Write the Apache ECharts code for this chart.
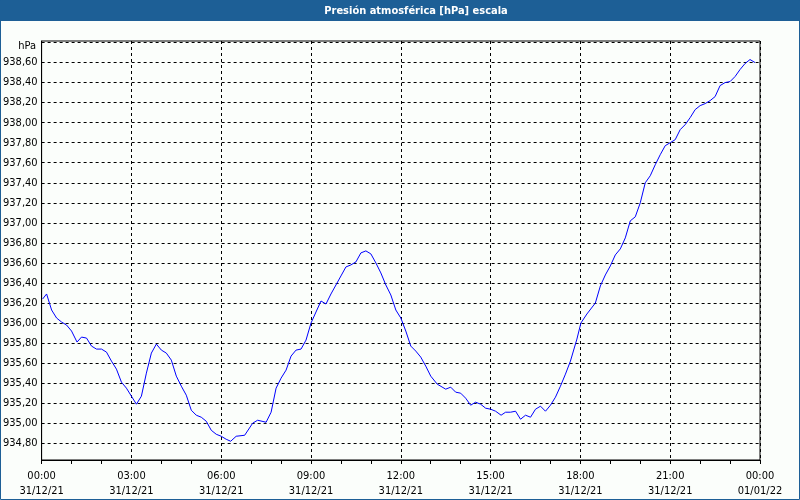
<!DOCTYPE html>
<html>
<head>
<meta charset="utf-8">
<script src="https://cdn.jsdelivr.net/npm/echarts@6/dist/echarts.min.js"></script>
<style>
html,body{margin:0;padding:0;background:#fbfefb;}
#chart{width:800px;height:500px;}
</style>
</head>
<body>
<div id="chart"></div>
<script>
// Minutes since 00:00 31/12/21
var times = [2,10,20,30,40,50,60,71,80,90,100,110,120,130,140,150,160,170,180,190,
  200,210,220,230,240,250,260,270,280,290,300,310,320,330,340,350,360,370,379,390,
  407,423,433,450,460,470,480,490,500,510,520,530,540,550,560,570,580,590,600,610,
  620,630,640,650,660,670,680,690,700,710,720,730,740,750,760,770,780,793,810,820,
  830,840,850,860,870,880,890,900,910,921,930,940,950,960,970,980,990,1000,1010,1020,
  1030,1040,1050,1060,1073,1081,1093,1110,1120,1130,1140,1150,1160,1170,1180,1190,1200,1210,1220,1230,
  1240,1250,1260,1270,1280,1290,1300,1310,1320,1330,1340,1350,1360,1370,1380,1390,1400,1410,1420,1430];
// Pressure in hPa
var pressure = [936.24,936.29,936.13,936.05,936.01,935.98,935.92,935.81,935.86,935.85,
  935.77,935.74,935.74,935.71,935.62,935.54,935.41,935.35,935.27,935.19,
  935.27,935.50,935.70,935.79,935.73,935.70,935.63,935.47,935.37,935.28,
  935.13,935.08,935.06,935.02,934.93,934.89,934.87,934.84,934.82,934.87,
  934.88,935.00,935.03,935.01,935.11,935.35,935.45,935.53,935.67,935.73,
  935.74,935.83,936.00,936.11,936.22,936.19,936.29,936.38,936.47,936.56,
  936.58,936.61,936.70,936.72,936.69,936.60,936.50,936.38,936.28,936.13,
  936.05,935.92,935.77,935.72,935.66,935.57,935.47,935.39,935.34,935.36,
  935.31,935.30,935.25,935.18,935.21,935.19,935.15,935.14,935.12,935.08,
  935.11,935.11,935.12,935.04,935.08,935.06,935.14,935.17,935.12,935.18,
  935.26,935.37,935.49,935.62,935.84,936.00,936.09,936.20,936.37,936.48,
  936.57,936.68,936.74,936.85,937.02,937.06,937.20,937.40,937.47,937.58,
  937.68,937.77,937.80,937.83,937.93,937.98,938.05,938.13,938.17,938.19,
  938.22,938.26,938.37,938.40,938.41,938.46,938.53,938.59,938.63,938.60];
var yTickValues = [934.8,935.0,935.2,935.4,935.6,935.8,936.0,936.2,936.4,936.6,936.8,937.0,937.2,937.4,937.6,937.8,938.0,938.2,938.4,938.6,938.8];
var yLabelValues = [934.8,935.0,935.2,935.4,935.6,935.8,936.0,936.2,936.4,936.6,936.8,937.0,937.2,937.4,937.6,937.8,938.0,938.2,938.4,938.6];
var titleText = 'Presión atmosférica [hPa] escala';
var unitText = 'hPa';
var dayLabels = ['31/12/21', '01/01/22'];

var FONT = '"DejaVu Sans Condensed", "DejaVu Sans", "Liberation Sans", sans-serif';
var data = times.map(function (t, i) { return [t, pressure[i]]; });

var chart = echarts.init(document.getElementById('chart'), null, {renderer: 'canvas'});
chart.setOption({
  animation: false,
  backgroundColor: '#fbfefb',
  graphic: [
    {type: 'rect', shape: {x: 0, y: 0, width: 800, height: 21}, style: {fill: '#1d5f96'}, z: 10},
    {type: 'rect', shape: {x: 0.5, y: 0.5, width: 799, height: 499}, style: {fill: null, stroke: '#1d5f96', lineWidth: 1}, z: 10},
    {type: 'text', x: 416, y: 11, z: 11, style: {text: titleText, fill: '#ffffff', font: 'bold 11px ' + FONT, textAlign: 'center', textVerticalAlign: 'middle'}},
    {type: 'text', x: 36, y: 46, z: 11, style: {text: unitText, fill: '#000000', font: '11px ' + FONT, textAlign: 'right', textVerticalAlign: 'middle'}}
  ],
  grid: {left: 40, right: 40, top: 41, bottom: 40, show: true, borderColor: '#000', borderWidth: 1, backgroundColor: 'transparent'},
  xAxis: {
    type: 'value', min: 0, max: 1440, interval: 180,
    axisLine: {show: true, lineStyle: {color: '#000', width: 1}},
    axisTick: {show: true, length: 4, lineStyle: {color: '#000'}},
    minorTick: {show: true, splitNumber: 3, length: 4, lineStyle: {color: '#000'}},
    splitLine: {show: true, lineStyle: {color: '#000', type: [3, 3], width: 1}},
    axisLabel: {
      show: true, margin: 9, color: '#000', fontFamily: FONT, fontSize: 11, lineHeight: 15,
      showMinLabel: true, showMaxLabel: true, hideOverlap: false,
      formatter: function (v) {
        var h = Math.floor(v / 60) % 24;
        var hh = (h < 10 ? '0' : '') + h + ':00';
        return hh + '\n' + (v >= 1440 ? dayLabels[1] : dayLabels[0]);
      }
    }
  },
  yAxis: {
    type: 'value', min: 934.633, max: 938.815,
    axisLine: {show: true, lineStyle: {color: '#000', width: 1}},
    axisTick: {show: false, customValues: yTickValues},
    splitLine: {show: true, lineStyle: {color: '#000', type: [3, 3], width: 1}},
    axisLabel: {
      show: true, margin: 4, color: '#000', fontFamily: FONT, fontSize: 11,
      customValues: yLabelValues,
      formatter: function (v) { return v.toFixed(2).replace('.', ','); }
    }
  },
  series: [{
    type: 'line', data: data, showSymbol: false, symbol: 'none',
    lineStyle: {color: '#0000ff', width: 1}, itemStyle: {color: '#0000ff'}
  }]
});
</script>
</body>
</html>
